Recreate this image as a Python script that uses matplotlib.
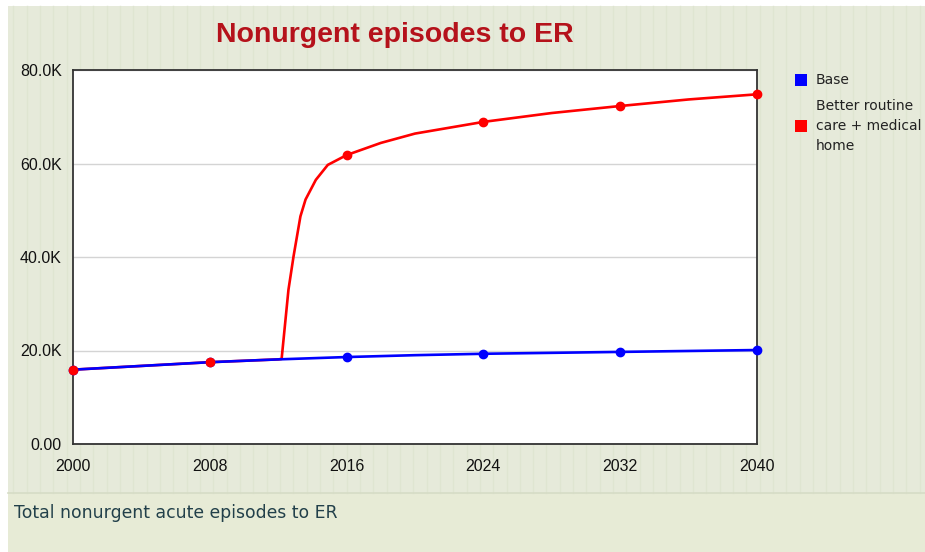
import matplotlib.pyplot as plt
from matplotlib.patches import Rectangle
from matplotlib.lines import Line2D

# data
base_years = [2000, 2004, 2008, 2012, 2016, 2020, 2024, 2028, 2032, 2036, 2040]
base_values = [15.9, 16.7, 17.5, 18.1, 18.6, 19.0, 19.3, 19.5, 19.7, 19.9, 20.1]

better_years = [2000, 2004, 2008, 2012, 2012.2, 2012.6, 2012.9, 2013.3, 2013.6,
                2014.2, 2014.9, 2016, 2018, 2020, 2024, 2028, 2032, 2036, 2040]
better_values = [15.9, 16.7, 17.5, 18.1, 18.2, 33.0, 40.2, 48.7, 52.3,
                 56.5, 59.7, 61.8, 64.4, 66.4, 68.9, 70.8, 72.3, 73.7, 74.8]

marker_years = [2000, 2008, 2016, 2024, 2032, 2040]
base_markers = [15.9, 17.5, 18.6, 19.3, 19.7, 20.1]
better_markers = [15.9, 17.5, 61.8, 68.9, 72.3, 74.8]

series_names = ["Base", "Better routine\ncare + medical\nhome"]
series_colors = ["#0000ff", "#ff0000"]

x_ticks = [2000, 2008, 2016, 2024, 2032, 2040]
y_ticks = [0, 20, 40, 60, 80]
y_tick_labels = ["0.00", "20.0K", "40.0K", "60.0K", "80.0K"]

title = "Nonurgent episodes to ER"
caption = "Total nonurgent acute episodes to ER"

plt.rcParams["font.family"] = ["Liberation Sans", "DejaVu Sans"]

W, H = 925, 552
bg = "#e6eada"
bg_low = "#e7ebd6"
stripe = "#dfe5d1"

fig = plt.figure(figsize=(W / 100, H / 100), dpi=100)
fig.patch.set_facecolor("white")

# page background: striped upper panel and plain lower panel
fig.add_artist(Rectangle((8 / W, 0), 1, 1 - 6 / H, transform=fig.transFigure,
                         facecolor=bg, edgecolor="none", zorder=-10))
fig.add_artist(Rectangle((8 / W, 0), 1, 1 - 493 / H, transform=fig.transFigure,
                         facecolor=bg_low, edgecolor="none", zorder=-9))
x = 13.3
while x < W:
    fig.add_artist(Line2D([x / W, x / W], [1 - 493 / H, 1 - 6 / H],
                          transform=fig.transFigure, color=stripe, lw=1.0, zorder=-8))
    x += 13.33
fig.add_artist(Line2D([8 / W, 1], [1 - 493 / H, 1 - 493 / H], transform=fig.transFigure,
                      color="#d6dcc6", lw=1.2, zorder=-7))

ax = fig.add_axes([73 / W, 1 - 444 / H, 684 / W, 374 / H])
ax.set_facecolor("white")

ax.plot(better_years, better_values, color=series_colors[1], lw=1.9, zorder=3)
ax.plot(base_years, base_values, color=series_colors[0], lw=1.9, zorder=4)
ax.plot(marker_years, base_markers, "o", color=series_colors[0], ms=6, zorder=5, clip_on=False)
ax.plot(marker_years, better_markers, "o", color=series_colors[1], ms=6, zorder=6, clip_on=False)

ax.set_xlim(2000, 2040)
ax.set_ylim(0, 80)
ax.set_xticks(x_ticks)
ax.set_yticks(y_ticks)
ax.set_yticklabels(y_tick_labels)
ax.tick_params(length=0, labelsize=11.5, colors="#111111")
ax.tick_params(axis="y", pad=8)
ax.tick_params(axis="x", pad=11)
ax.grid(axis="y", color="#d4d4d4", lw=1.0)
ax.set_axisbelow(True)
for s in ax.spines.values():
    s.set_color("#333333")
    s.set_linewidth(1.3)

fig.text(395 / W, 1 - 35 / H, title, ha="center", va="center", fontsize=20.5,
         fontweight="bold", color="#b5121b")

# legend
legend_y = [80, 126]
for name, color, ly in zip(series_names, series_colors, legend_y):
    fig.add_artist(Rectangle((795 / W, 1 - (ly + 6) / H), 12 / W, 12 / H,
                             transform=fig.transFigure, facecolor=color, edgecolor="none"))
    fig.text(816 / W, 1 - ly / H, name, ha="left", va="center", fontsize=10,
             color="#222222", linespacing=1.55, family="DejaVu Sans")

fig.text(14 / W, 1 - 513 / H, caption, ha="left", va="center", fontsize=12.4,
         color="#22404a", family="DejaVu Sans")

fig.savefig("out.png", dpi=100, facecolor=fig.get_facecolor())
